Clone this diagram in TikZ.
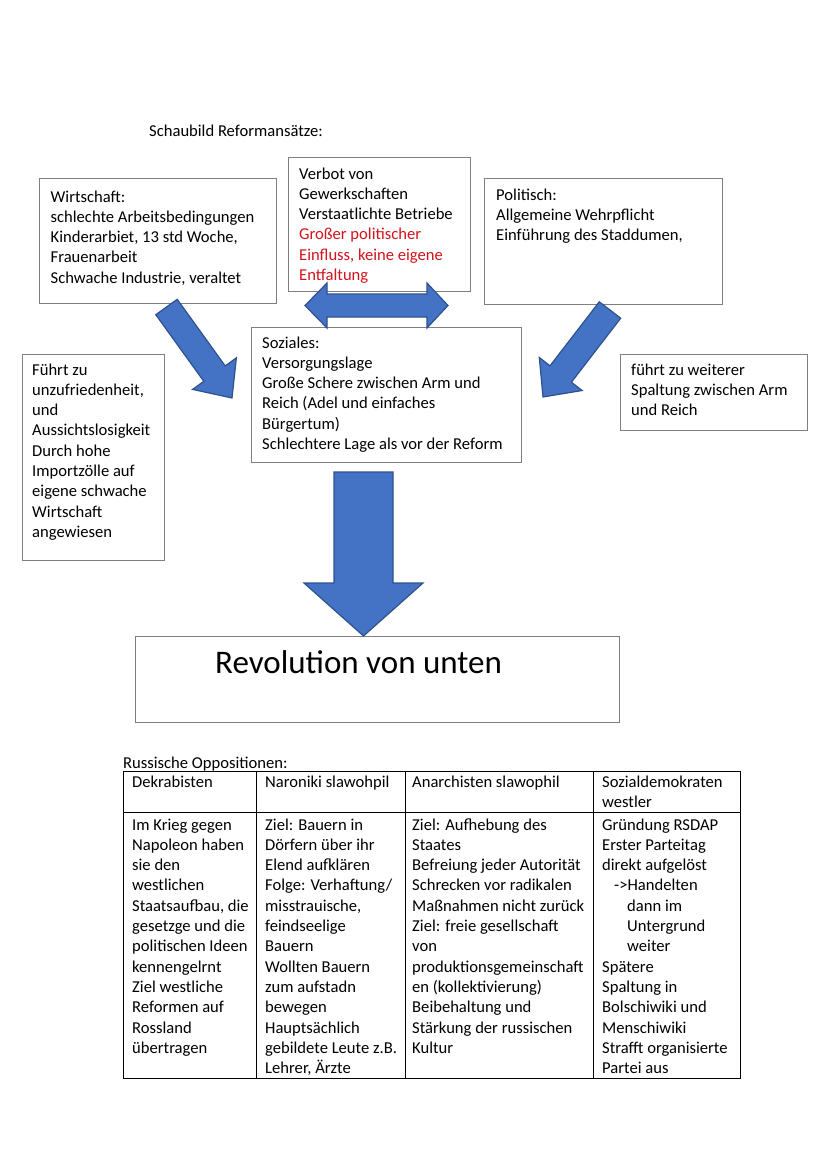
\documentclass[tikz,border=0pt]{standalone}
\usepackage{fontspec}
\setmainfont{Carlito}
\definecolor{boxgray}{HTML}{7F7F7F}
\definecolor{arrowblue}{HTML}{4472C4}
\definecolor{arrowedge}{HTML}{2F528F}
\definecolor{txtred}{HTML}{D2141C}
\newcommand\ml[1]{\begin{tabular}[t]{@{}l@{}}#1\end{tabular}}
\begin{document}
\begin{tikzpicture}[x=1pt,y=-1pt,
  box/.style={draw=boxgray, line width=1.1pt, fill=white, inner sep=0pt, anchor=north west},
  txt/.style={anchor=base west, inner sep=0pt, font=\fontsize{16.6}{20.3}\selectfont},
  blockarrow/.style={fill=arrowblue, draw=arrowedge, line width=1.2pt, line join=miter},
  tabline/.style={draw=black, line width=0.95pt}]
\useasboundingbox (0,0) rectangle (828,1171);
\fill[white] (0,0) rectangle (828,1171);

% title
\node[txt] (title) at (149,136) {Schaubild Reformansätze:};

% boxes
\node[box, minimum width=237pt, minimum height=125pt] (wirt) at (39,178) {};
\node[box, minimum width=182pt, minimum height=134pt] (verbot) at (288,157) {};
\node[box, minimum width=238pt, minimum height=126pt] (polit) at (484,178) {};
\node[box, minimum width=270pt, minimum height=135pt] (sozial) at (251,327) {};
\node[box, minimum width=142pt, minimum height=206pt] (fuehrt) at (22,354) {};
\node[box, minimum width=187pt, minimum height=76pt] (spalt) at (620,354) {};
\node[box, minimum width=484pt, minimum height=86pt] (revo) at (135,636) {};

% box texts
\node[txt] (wirtT) at (50.5,202) {\ml{Wirtschaft:\\schlechte Arbeitsbedingungen\\Kinderarbiet, 13 std Woche,\\Frauenarbeit\\Schwache Industrie, veraltet}};
\node[txt] (verbotT) at (299,179) {\ml{Verbot von\\Gewerkschaften\\Verstaatlichte Betriebe\\\textcolor{txtred}{Großer politischer}\\\textcolor{txtred}{Einfluss, keine eigene}\\\textcolor{txtred}{Entfaltung}}};
\node[txt] (politT) at (496,200) {\ml{Politisch:\\Allgemeine Wehrpflicht\\Einführung des Staddumen,}};
\node[txt] (sozialT) at (262,348) {\ml{Soziales:\\Versorgungslage\\Große Schere zwischen Arm und\\Reich (Adel und einfaches\\Bürgertum)\\Schlechtere Lage als vor der Reform}};
\node[txt] (fuehrtT) at (32,375) {\ml{Führt zu\\unzufriedenheit,\\und\\Aussichtslosigkeit\\Durch hohe\\Importzölle auf\\eigene schwache\\Wirtschaft\\angewiesen}};
\node[txt] (spaltT) at (631,375) {\ml{führt zu weiterer\\Spaltung zwischen Arm\\und Reich}};
\node[txt, font=\fontsize{33}{40}\selectfont] (revoT) at (215,673) {Revolution von unten};

% block arrows
\draw[blockarrow] (155.8,314.7) -- (203.8,381.3) -- (192.6,389.4) -- (232,398) -- (236.4,357.8) -- (225.2,365.9) -- (177.2,299.3) -- cycle;
\draw[blockarrow] (599.3,301.8) -- (550,365.8) -- (539.3,357.5) -- (543,397) -- (582.1,390.5) -- (571.4,382.2) -- (620.7,318.2) -- cycle;
\draw[blockarrow] (305,305.5) -- (327,283) -- (327,294) -- (427,294) -- (427,283) -- (448,305.5) -- (427,328) -- (427,317) -- (327,317) -- (327,328) -- cycle;
\draw[blockarrow] (334,472) -- (393,472) -- (393,583) -- (423,583) -- (363.5,636) -- (304,583) -- (334,583) -- cycle;

% table
\node[txt] (tabtitle) at (123,768) {Russische Oppositionen:};
\coordinate (tNW) at (123,771.5);
\coordinate (tSE) at (740,1078);
\draw[tabline] (tNW) rectangle (tSE);
\draw[tabline] (123,812.5) -- (740,812.5);
\draw[tabline] (256.5,771.5) -- (256.5,1078);
\draw[tabline] (405,771.5) -- (405,1078);
\draw[tabline] (593.5,771.5) -- (593.5,1078);

\node[txt] (h1) at (132,787) {Dekrabisten};
\node[txt] (h2) at (265,787) {Naroniki slawohpil};
\node[txt] (h3) at (412,787) {Anarchisten slawophil};
\node[txt] (h4) at (602,787) {\ml{Sozialdemokraten\\westler}};

\node[txt] (c1) at (132,830) {\ml{Im Krieg gegen\\Napoleon haben\\sie den\\westlichen\\Staatsaufbau, die\\gesetzge und die\\politischen Ideen\\kennengelrnt\\Ziel westliche\\Reformen auf\\Rossland\\übertragen}};
\node[txt] (c2) at (265,830) {\ml{Ziel: Bauern in\\Dörfern über ihr\\Elend aufklären\\Folge: Verhaftung/\\misstrauische,\\feindseelige\\Bauern\\Wollten Bauern\\zum aufstadn\\bewegen\\Hauptsächlich\\gebildete Leute z.B.\\Lehrer, Ärzte}};
\node[txt] (c3) at (412,830) {\ml{Ziel: Aufhebung des\\Staates\\Befreiung jeder Autorität\\Schrecken vor radikalen\\Maßnahmen nicht zurück\\Ziel: freie gesellschaft\\von\\produktionsgemeinschaft\\en (kollektivierung)\\Beibehaltung und\\Stärkung der russischen\\Kultur}};
\node[txt] (c4) at (602,830) {\ml{Gründung RSDAP\\Erster Parteitag\\direkt aufgelöst\\\hspace*{12pt}->Handelten\\\hspace*{25pt}dann im\\\hspace*{25pt}Untergrund\\\hspace*{25pt}weiter\\Spätere\\Spaltung in\\Bolschiwiki und\\Menschiwiki\\Strafft organisierte\\Partei aus}};
\end{tikzpicture}
\end{document}
